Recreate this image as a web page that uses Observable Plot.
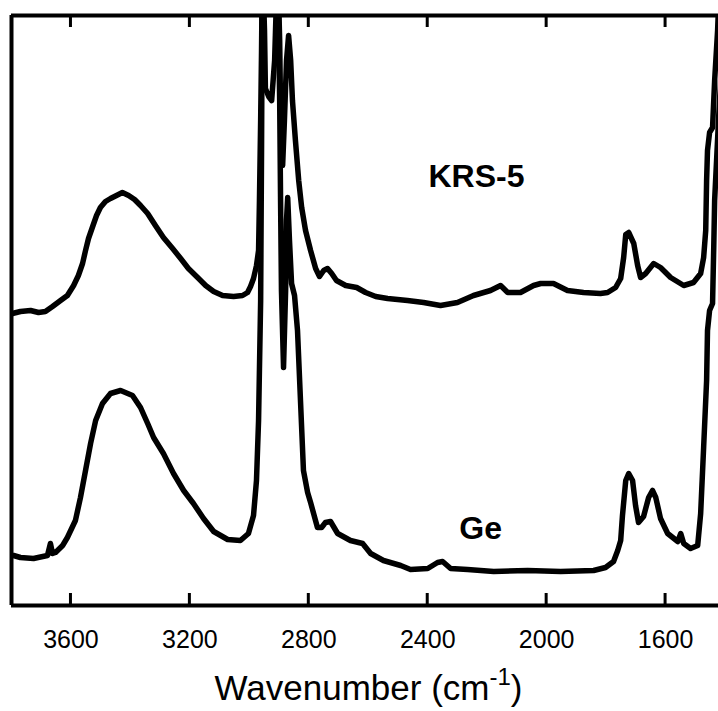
<!DOCTYPE html>
<html><head><meta charset="utf-8">
<script src="https://cdn.jsdelivr.net/npm/d3@7"></script>
<script src="https://cdn.jsdelivr.net/npm/@observablehq/plot@0.6"></script>
<style>
html,body{margin:0;padding:0;background:#fff;overflow:hidden}
#chart svg{display:block}
</style></head><body><div id="chart"></div>
<script>
// KRS-5 spectrum (upper trace), wavenumber in cm-1, absorbance in arbitrary units
const krsWavenumber = [3797,3770,3736,3709,3686,3662,3635,3612,3591,3575,3561,3551,3541,3527,3514,3501,3484,3467,3447,3427,3406,3386,3366,3342,3316,3289,3258,3231,3205,3174,3147,3120,3090,3053,3023,3006,2996,2986,2976,2969,2966,2962,2959,2956,2949,2946,2935,2925,2915,2905,2898,2895,2888,2882,2875,2868,2861,2855,2845,2834,2824,2811,2794,2777,2764,2750,2737,2723,2707,2676,2639,2609,2575,2535,2468,2414,2357,2300,2246,2189,2155,2131,2088,2044,2020,1977,1930,1876,1819,1795,1768,1751,1741,1734,1724,1707,1694,1684,1667,1640,1617,1583,1539,1506,1482,1472,1465,1462,1459,1452,1442,1435,1425,1418];
const krsAbsorbance = [2.92,2.94,2.95,2.93,2.94,2.99,3.05,3.10,3.20,3.30,3.42,3.55,3.67,3.79,3.90,3.98,4.04,4.07,4.10,4.13,4.10,4.06,4.00,3.92,3.80,3.68,3.57,3.47,3.37,3.28,3.20,3.14,3.10,3.09,3.10,3.13,3.19,3.27,3.40,3.55,4.05,4.85,5.55,6.45,5.75,5.17,5.09,5.05,5.45,6.45,5.65,4.95,4.40,4.85,5.45,5.70,5.45,5.05,4.65,4.25,3.98,3.75,3.55,3.37,3.29,3.35,3.37,3.32,3.25,3.20,3.18,3.13,3.09,3.07,3.05,3.03,3.00,3.03,3.10,3.15,3.20,3.13,3.13,3.20,3.22,3.22,3.15,3.13,3.12,3.13,3.18,3.27,3.48,3.71,3.73,3.62,3.40,3.28,3.32,3.42,3.38,3.28,3.20,3.23,3.32,3.48,3.75,4.25,4.55,4.73,4.78,5.25,5.75,6.30];

// Ge spectrum (lower trace)
const geWavenumber = [3793,3770,3726,3679,3669,3662,3652,3628,3612,3585,3568,3551,3534,3517,3494,3467,3433,3393,3366,3342,3322,3289,3255,3221,3188,3154,3120,3073,3030,3003,2986,2976,2969,2962,2959,2956,2929,2905,2898,2895,2892,2885,2878,2875,2871,2865,2858,2848,2838,2828,2818,2804,2794,2771,2757,2744,2727,2703,2660,2619,2592,2549,2491,2458,2400,2367,2350,2323,2266,2178,2064,1953,1842,1802,1775,1761,1751,1745,1734,1724,1711,1701,1691,1674,1657,1644,1633,1617,1593,1559,1549,1539,1516,1492,1482,1472,1462,1459,1452,1442,1438,1435,1428,1422,1415];
const geAbsorbance = [0.50,0.48,0.47,0.50,0.62,0.52,0.53,0.60,0.68,0.85,1.08,1.35,1.62,1.85,2.02,2.12,2.15,2.10,1.98,1.82,1.68,1.52,1.32,1.15,1.02,0.87,0.74,0.66,0.65,0.72,0.90,1.25,1.85,3.05,4.55,6.45,6.65,6.45,5.05,4.05,3.15,2.38,3.15,3.85,4.08,3.65,3.22,3.10,2.75,2.05,1.35,1.13,1.03,0.78,0.78,0.83,0.84,0.72,0.65,0.62,0.52,0.45,0.40,0.36,0.37,0.43,0.44,0.37,0.36,0.34,0.35,0.34,0.35,0.38,0.44,0.55,0.65,0.90,1.25,1.32,1.25,1.00,0.83,0.89,1.08,1.15,1.08,0.87,0.72,0.64,0.72,0.62,0.57,0.60,0.92,1.58,2.25,2.75,2.95,3.02,3.58,4.05,4.48,4.85,5.25];

const xTicks = [3600, 3200, 2800, 2400, 2000, 1600];
const xDomain = [3800, 1422];
const yDomain = [0, 5.9];
const sampleNames = ["KRS-5", "Ge"];
const labelWavenumber = [2236, 2222];
const labelAbsorbance = [4.19, 0.67];
const axisTitle = "Wavenumber (cm";
const axisTitleSup = "-1";
const axisTitleEnd = ")";

const krs = krsWavenumber.map((w, i) => ({w, a: krsAbsorbance[i]}));
const ge = geWavenumber.map((w, i) => ({w, a: geAbsorbance[i]}));

const font = "Arial, 'Liberation Sans', sans-serif";
const lineStyle = {x: "w", y: "a", stroke: "#000", strokeWidth: 5.5, strokeLinejoin: "round", strokeLinecap: "round", clip: true};
const tickLen = 12;
const plot = Plot.plot({
  width: 718, height: 711,
  marginTop: 15, marginBottom: 106, marginLeft: 11, marginRight: 0,
  style: {fontFamily: font, background: "#fff", color: "#000", overflow: "visible"},
  x: {domain: xDomain, axis: null},
  y: {domain: yDomain, axis: null},
  marks: [
    Plot.line(krs, lineStyle),
    Plot.line(ge, lineStyle),
    Plot.ruleY([yDomain[0]], {stroke: "#000", strokeWidth: 4}),
    Plot.ruleY([yDomain[1]], {stroke: "#000", strokeWidth: 4}),
    Plot.ruleX([xDomain[0]], {stroke: "#000", strokeWidth: 4}),
    Plot.axisX(xTicks, {anchor: "bottom", tickSize: 0, tickPadding: 25, fontSize: 25, tickFormat: d => String(d), label: null}),
    Plot.text(sampleNames, {x: (d, i) => labelWavenumber[i], y: (d, i) => labelAbsorbance[i], text: d => d, fontSize: 32, fontWeight: "bold", lineAnchor: "bottom", fill: "#000"})
  ]
});
document.getElementById("chart").appendChild(plot);

const svg = d3.select(plot);
// inward tick marks on the bottom and top frame lines, positioned with Plot's own scales
const sx = plot.scale("x"), sy = plot.scale("y");
const px = d3.scaleLinear().domain(sx.domain).range(sx.range);
const py = d3.scaleLinear().domain(sy.domain).range(sy.range);
const yBottom = py(yDomain[0]), yTop = py(yDomain[1]);
const tg = svg.append("g").attr("stroke", "#000").attr("stroke-width", 3);
for (const v of xTicks) {
  tg.append("line").attr("x1", px(v)).attr("x2", px(v)).attr("y1", yBottom).attr("y2", yBottom - tickLen);
  tg.append("line").attr("x1", px(v)).attr("x2", px(v)).attr("y1", yTop).attr("y2", yTop + tickLen);
}

// axis title with superscript
const t = svg.append("text")
  .attr("x", (sx.range[0] + sx.range[1]) / 2 + 4)
  .attr("y", 700)
  .attr("text-anchor", "middle")
  .attr("font-family", font)
  .attr("font-size", 35)
  .attr("fill", "#000");
t.append("tspan").text(axisTitle);
t.append("tspan").attr("dy", -15).attr("font-size", 24).text(axisTitleSup);
t.append("tspan").attr("dy", 15).text(axisTitleEnd);
</script>
</body></html>
